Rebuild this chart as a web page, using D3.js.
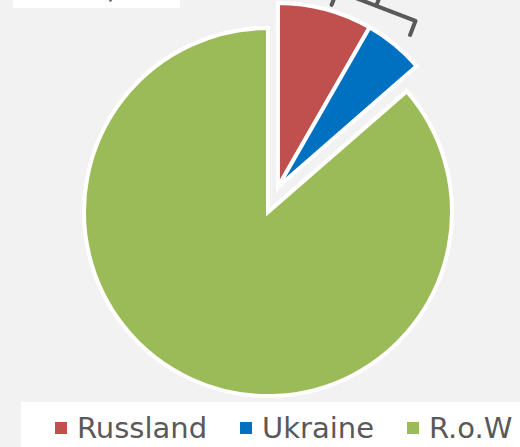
<!DOCTYPE html>
<html>
<head>
<meta charset="utf-8">
<script src="https://cdn.jsdelivr.net/npm/d3@7"></script>
<style>
  html, body { margin: 0; padding: 0; background: #f2f2f2; }
  svg { display: block; font-family: "DejaVu Sans", Verdana, sans-serif; }
</style>
</head>
<body>
<svg id="chart" width="520" height="447"></svg>
<script>
// data (share in %)
var categories = ["Russland", "Ukraine", "R.o.W"];
var shares = [8.3, 5.3, 86.4];
var exploded = [true, true, false];
var colors = ["#C0504D", "#0070C0", "#9BBB59"];
var titleText = "2021/22";

var WIDTH = 520, HEIGHT = 447;
var CX = 268, CY = 212, RADIUS = 184;
var EXPLODE = 27;

var svg = d3.select("#chart");

var slices = categories.map(function(c, i) {
    return { name: c, value: shares[i], exploded: exploded[i], color: colors[i] };
});

// title box, cut off at top of the picture
var titleG = svg.append("g");
titleG.append("rect")
    .attr("x", 13).attr("y", -40)
    .attr("width", 167).attr("height", 48)
    .attr("fill", "#ffffff");
titleG.append("text")
    .attr("x", 96).attr("y", -1.2)
    .attr("text-anchor", "middle")
    .attr("font-size", 28)
    .attr("fill", "#595959")
    .text(titleText);

var pie = d3.pie()
    .sort(null)
    .value(function(d) { return d.value; });

var arcs = pie(slices);

var arc = d3.arc()
    .innerRadius(0)
    .outerRadius(RADIUS);

// exploded slices move together along the middle of their common arc
var expArcs = arcs.filter(function(d) { return d.data.exploded; });
var expStart = d3.min(expArcs, function(d) { return d.startAngle; });
var expEnd = d3.max(expArcs, function(d) { return d.endAngle; });
var expMid = (expStart + expEnd) / 2 - 0.05;
var dx = Math.sin(expMid) * EXPLODE;
var dy = -Math.cos(expMid) * EXPLODE;

var pieG = svg.append("g").attr("transform", "translate(" + CX + "," + CY + ")");

pieG.selectAll("path")
    .data(arcs)
    .enter()
    .append("path")
    .attr("d", arc)
    .attr("transform", function(d) {
        return d.data.exploded ? "translate(" + dx + "," + dy + ")" : null;
    })
    .attr("fill", function(d) { return d.data.color; })
    .attr("stroke", "#ffffff")
    .attr("stroke-width", 4)
    .attr("stroke-linejoin", "miter");

// bracket grouping the exploded slices
var bracketAngle = 28.5 * Math.PI / 180;
var bracketDist = 206;
var bx = dx + Math.sin(bracketAngle) * bracketDist;
var by = dy - Math.cos(bracketAngle) * bracketDist;
var half = 42, hook = 15, stem = 13;
pieG.append("path")
    .attr("transform", "translate(" + bx + "," + by + ") rotate(21)")
    .attr("d", "M" + (-half) + "," + hook + " L" + (-half) + ",0 L" + half + ",0 L" + half + "," + hook +
               " M0,0 L0," + (-stem))
    .attr("fill", "none")
    .attr("stroke", "#595959")
    .attr("stroke-width", 4)
    .attr("stroke-linejoin", "round")
    .attr("stroke-linecap", "round");

// legend
var legendG = svg.append("g");
legendG.append("rect")
    .attr("x", 21).attr("y", 402)
    .attr("width", WIDTH - 21).attr("height", 60)
    .attr("fill", "#ffffff");

var legendX = [55, 240, 407];
var item = legendG.selectAll("g.item")
    .data(slices)
    .enter()
    .append("g")
    .attr("class", "item")
    .attr("transform", function(d, i) { return "translate(" + legendX[i] + ",0)"; });

item.append("rect")
    .attr("x", 0).attr("y", 422)
    .attr("width", 12).attr("height", 12)
    .attr("fill", function(d) { return d.color; });

item.append("text")
    .attr("x", 22).attr("y", 438)
    .attr("font-size", 29)
    .attr("fill", "#595959")
    .text(function(d) { return d.name; });
</script>
</body>
</html>
